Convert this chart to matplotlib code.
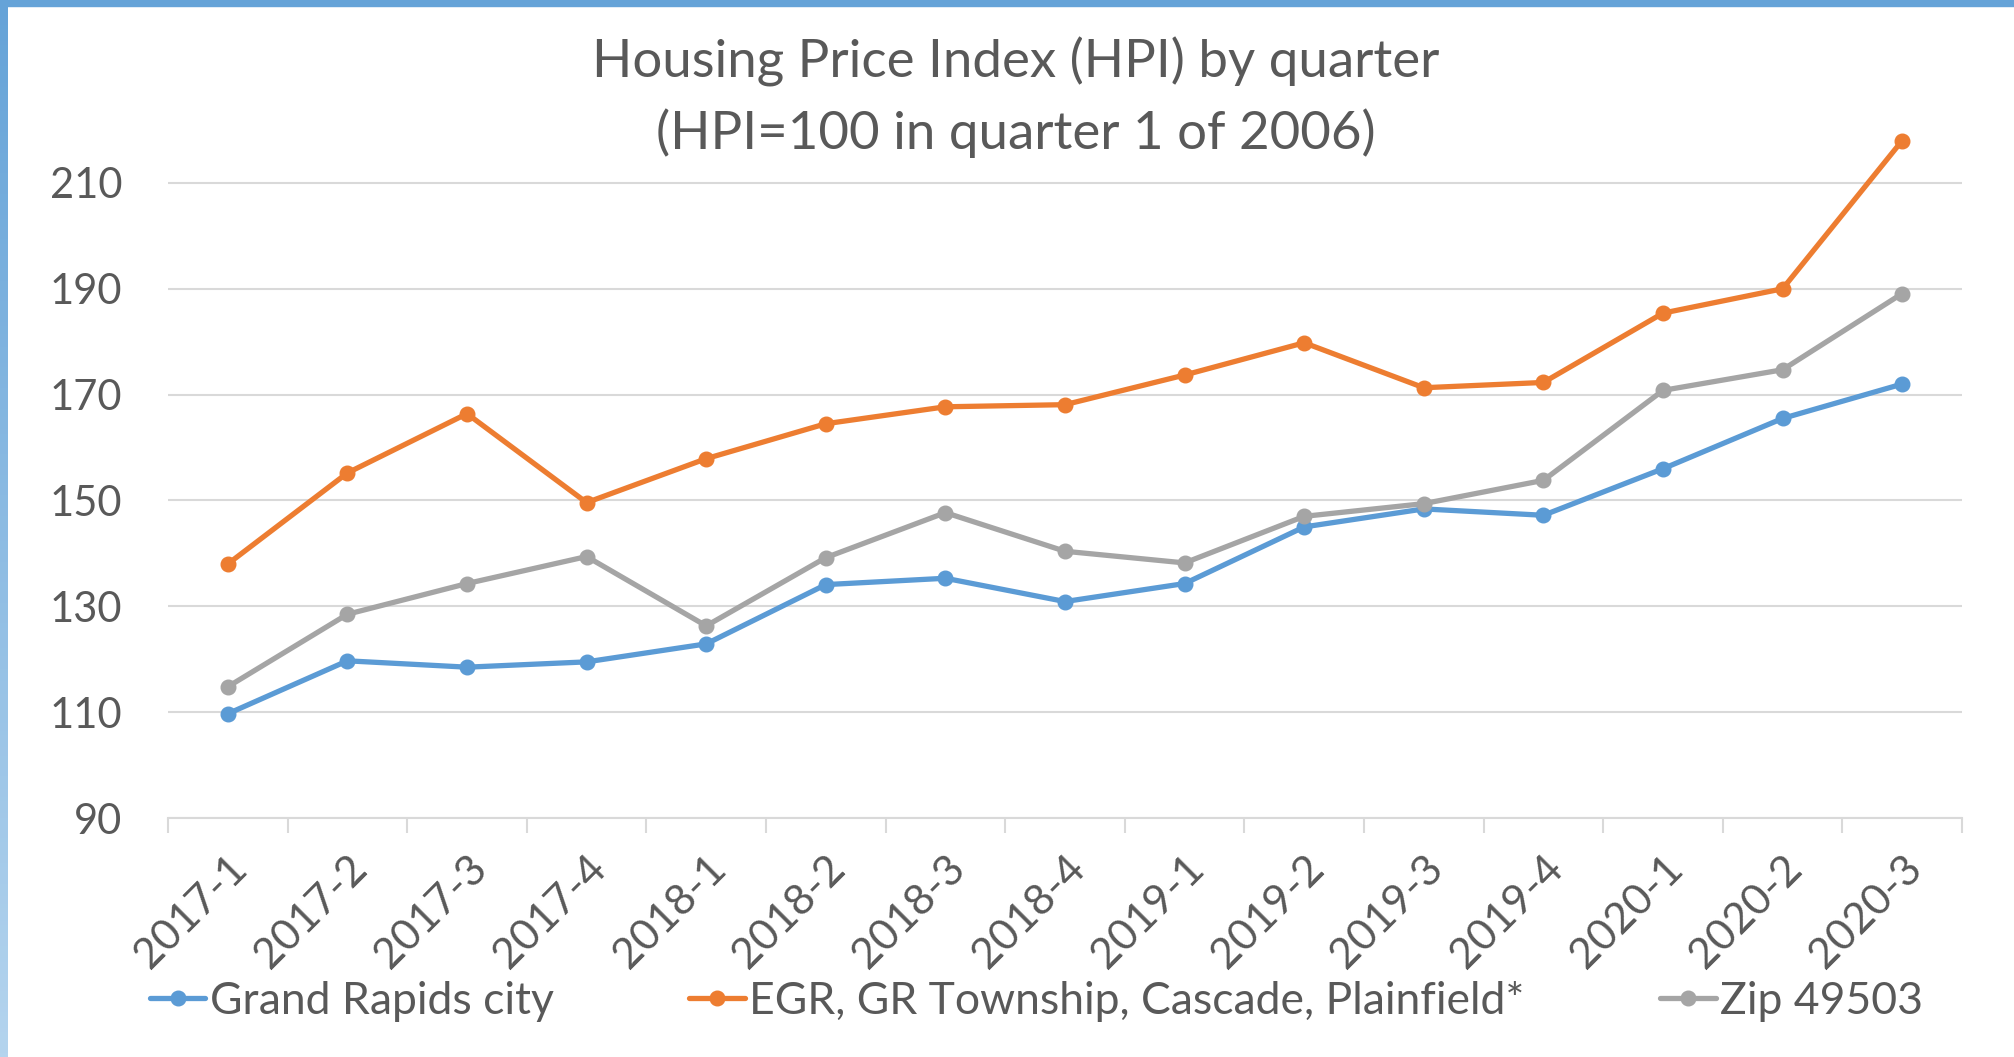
import matplotlib.pyplot as plt
import numpy as np
from matplotlib.patches import Rectangle

plt.rcParams['font.family'] = ['Lato', 'DejaVu Sans']

quarters = ['2017-1', '2017-2', '2017-3', '2017-4', '2018-1', '2018-2', '2018-3',
            '2018-4', '2019-1', '2019-2', '2019-3', '2019-4', '2020-1', '2020-2', '2020-3']
grand_rapids = [109.7, 119.7, 118.5, 119.5, 122.9, 134.1, 135.3, 130.9,
                134.3, 145.0, 148.4, 147.2, 156.0, 165.5, 172.0]
egr_group = [138.0, 155.2, 166.4, 149.6, 157.9, 164.5, 167.7, 168.1,
             173.7, 179.8, 171.3, 172.3, 185.4, 190.0, 218.0]
zip_49503 = [114.8, 128.5, 134.3, 139.4, 126.3, 139.2, 147.7, 140.4,
             138.2, 147.0, 149.4, 153.8, 170.8, 174.7, 189.1]
y_ticks = [90, 110, 130, 150, 170, 190, 210]

series = [
    ('Grand Rapids city', grand_rapids, '#5B9BD5'),
    ('EGR, GR Township, Cascade, Plainfield*', egr_group, '#ED7D31'),
    ('Zip 49503', zip_49503, '#A5A5A5'),
]

txt = '#595959'
grid = '#D9D9D9'

fig = plt.figure(figsize=(20.15, 10.57), dpi=100)
ax = fig.add_axes([168 / 2015, 1 - 818 / 1057, (1962 - 168) / 2015, (818 - 130) / 1057])

x = np.arange(len(quarters))
for name, vals, col in series:
    ax.plot(x, vals, color=col, lw=3.8, marker='o', ms=10.5, label=name,
            solid_capstyle='round', clip_on=False, zorder=3)

ax.set_xlim(-0.5, len(quarters) - 0.5)
ax.set_ylim(90, 220)
ax.set_yticks(y_ticks)
ax.yaxis.grid(True, color=grid, lw=1.5)
ax.set_axisbelow(True)
for s in ['top', 'right', 'left']:
    ax.spines[s].set_visible(False)
ax.spines['bottom'].set_color(grid)
ax.spines['bottom'].set_linewidth(1.5)

ax.tick_params(axis='y', length=0, labelsize=30, labelcolor=txt, pad=33)
ax.set_xticks(x)
ax.set_xticklabels(quarters, rotation=45, ha='right', rotation_mode='anchor')
ax.tick_params(axis='x', which='major', length=0, labelsize=31, labelcolor=txt, pad=22)
ax.set_xticks(np.arange(-0.5, len(quarters)), minor=True)
ax.tick_params(axis='x', which='minor', length=11, width=1.5, color=grid)

fig.text(0.504, 1 - 48 * 1.285 / 1057, 'Housing Price Index (HPI) by quarter',
         ha='center', va='center', fontsize=38, color=txt)
fig.text(0.504, 1 - 104 * 1.285 / 1057, '(HPI=100 in quarter 1 of 2006)',
         ha='center', va='center', fontsize=38, color=txt)

fig.legend(loc='center left', bbox_to_anchor=(132 / 2015, 1 - 1001 / 1057), ncol=3,
           frameon=False, fontsize=32, labelcolor=txt, handlelength=1.25,
           handletextpad=0.1, columnspacing=3.05, borderaxespad=0)

# frame band at top and gradient on the left
fig.patches.append(Rectangle((0, 1 - 6 / 1057), 1, 6 / 1057, transform=fig.transFigure,
                             color='#65A3D8', zorder=10))
bax = fig.add_axes([0, 0, 8 / 2015, 1])
grad = np.linspace(0, 1, 256)[:, None]
c0 = np.array([0x65, 0xA3, 0xD8]) / 255
c1 = np.array([0xB4, 0xD4, 0xEE]) / 255
img = c0[None, None, :] * (1 - grad[:, :, None]) + c1[None, None, :] * grad[:, :, None]
bax.imshow(img, aspect='auto', extent=[0, 1, 0, 1], origin='upper')
bax.axis('off')

fig.savefig('out.png', dpi=100)
